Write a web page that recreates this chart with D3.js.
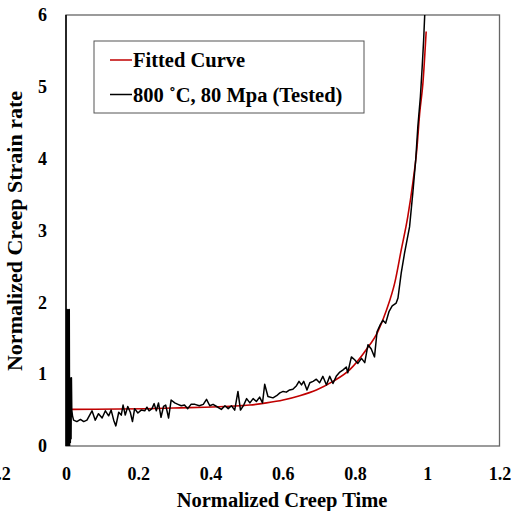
<!DOCTYPE html>
<html>
<head>
<meta charset="utf-8">
<script src="https://cdn.jsdelivr.net/npm/d3@7"></script>
<style>
  body { margin: 0; background: #fff; }
  text { font-family: "Liberation Serif", "Times New Roman", serif; font-weight: bold; fill: #000; }
</style>
</head>
<body>
<div id="chart"></div>
<script>
// --- Data ---
const testedTime = [
  0, 0.001, 0.002, 0.003, 0.004, 0.005, 0.006, 0.007, 0.008, 0.009, 0.010, 0.011,
  0.012, 0.013, 0.014, 0.015, 0.016, 0.018,
  0.021, 0.030, 0.040, 0.049, 0.058, 0.072, 0.081, 0.090, 0.100, 0.109, 0.118, 0.125,
  0.132, 0.138, 0.146, 0.153, 0.158, 0.164, 0.171, 0.178, 0.184, 0.190, 0.199, 0.208,
  0.218, 0.224, 0.230, 0.238, 0.244, 0.250, 0.256, 0.263, 0.270, 0.276, 0.284, 0.291,
  0.301, 0.310, 0.319, 0.328, 0.337, 0.346, 0.357, 0.369, 0.380, 0.389, 0.398, 0.407,
  0.417, 0.430, 0.440, 0.449, 0.458, 0.467, 0.476, 0.483, 0.492, 0.500, 0.509, 0.518,
  0.527, 0.536, 0.544, 0.550, 0.559, 0.573, 0.583, 0.592, 0.601, 0.610, 0.619, 0.628,
  0.638, 0.645, 0.652, 0.658, 0.667, 0.675, 0.684, 0.693, 0.702, 0.711, 0.721, 0.730,
  0.739, 0.748, 0.758, 0.767, 0.776, 0.780, 0.790, 0.799, 0.808, 0.818, 0.827, 0.836,
  0.845, 0.854, 0.861, 0.870, 0.877, 0.885, 0.894, 0.903, 0.914, 0.919, 0.928, 0.937,
  0.951, 0.960, 0.968, 0.974, 0.981, 0.986, 0.990, 0.993, 0.997
];
const testedRate = [
  0, 1.90, 0, 1.88, 0.05, 1.90, 0, 1.85, 0.02, 1.90, 0, 0.95,
  0.05, 0.93, 0.10, 0.95, 0.50, 0.42,
  0.36, 0.34, 0.37, 0.34, 0.36, 0.49, 0.36, 0.45, 0.39, 0.49, 0.42, 0.50,
  0.36, 0.28, 0.47, 0.43, 0.57, 0.43, 0.55, 0.47, 0.34, 0.52, 0.46, 0.50,
  0.49, 0.54, 0.49, 0.52, 0.59, 0.49, 0.60, 0.40, 0.55, 0.57, 0.39, 0.64,
  0.60, 0.58, 0.56, 0.57, 0.52, 0.58, 0.58, 0.56, 0.58, 0.65, 0.56, 0.58,
  0.55, 0.51, 0.56, 0.52, 0.56, 0.50, 0.76, 0.50, 0.57, 0.66, 0.60, 0.66,
  0.62, 0.68, 0.60, 0.86, 0.69, 0.67, 0.70, 0.74, 0.76, 0.75, 0.78, 0.79,
  0.84, 0.90, 0.85, 0.90, 0.78, 0.88, 0.90, 0.93, 0.88, 0.97, 0.85, 0.97,
  0.87, 0.97, 1.03, 1.06, 1.10, 1.02, 1.24, 1.20, 1.15, 1.22, 1.16, 1.41,
  1.35, 1.24, 1.59, 1.69, 1.75, 1.71, 1.87, 1.95, 1.99, 2.06, 2.41, 2.68,
  3.05, 3.52, 3.98, 4.45, 4.86, 5.28, 5.65, 6.00, 6.30
];
const fittedTime = [0, 0.019, 0.297, 0.481, 0.509, 0.555, 0.601, 0.647, 0.693, 0.739, 0.785,
  0.831, 0.863, 0.887, 0.910, 0.928, 0.946, 0.960, 0.971, 0.979, 0.988, 0.997];
const fittedRate = [0.51, 0.51, 0.53, 0.56, 0.57, 0.60, 0.64, 0.70, 0.78, 0.90, 1.06,
  1.34, 1.59, 1.89, 2.27, 2.73, 3.19, 3.66, 4.12, 4.63, 5.05, 5.77];

const xTicks = [-0.2, 0, 0.2, 0.4, 0.6, 0.8, 1, 1.2];
const yTicks = [0, 1, 2, 3, 4, 5, 6];
const legendLabels = ["Fitted Curve", "800 \u02DAC, 80 Mpa (Tested)"];
const legendColors = ["#c00000", "#000"];

// --- Layout ---
const width = 517, height = 511;
const margin = { left: 66, right: 17.5, top: 15, bottom: 65 };
const innerW = width - margin.left - margin.right;
const innerH = height - margin.top - margin.bottom;

const svg = d3.select("#chart")
  .append("svg")
  .attr("width", width)
  .attr("height", height);

const g = svg.append("g")
  .attr("transform", `translate(${margin.left},${margin.top})`);

const x = d3.scaleLinear().domain([0, 1.2]).range([0, innerW]);
const y = d3.scaleLinear().domain([0, 6]).range([innerH, 0]);

g.append("clipPath").attr("id", "clip")
  .append("rect").attr("width", innerW).attr("height", innerH);

// --- Plot box ---
g.append("rect")
  .attr("width", innerW)
  .attr("height", innerH)
  .attr("fill", "none")
  .attr("stroke", "#666")
  .attr("stroke-width", 1.3);
g.append("line")
  .attr("x1", 0).attr("x2", 0).attr("y1", 0).attr("y2", innerH)
  .attr("stroke", "#000").attr("stroke-width", 1.5);

// --- Axes (labels only, no tick marks) ---
const xAxis = g.append("g")
  .attr("transform", `translate(0,${innerH})`)
  .call(d3.axisBottom(x).tickValues(xTicks).tickFormat(d3.format("")).tickSize(0).tickPadding(21));
const yAxis = g.append("g")
  .call(d3.axisLeft(y).tickValues(yTicks).tickFormat(d3.format("d")).tickSize(0).tickPadding(19));
[xAxis, yAxis].forEach(a => {
  a.select(".domain").remove();
  a.selectAll("text").attr("font-size", "18px")
    .attr("font-family", "'Liberation Serif', 'Times New Roman', serif")
    .attr("font-weight", "bold").attr("fill", "#000");
});

// --- Curves ---
const tested = testedTime.map((t, i) => [t, testedRate[i]]);
const fitted = fittedTime.map((t, i) => [t, fittedRate[i]]);

const plot = g.append("g").attr("clip-path", "url(#clip)");

plot.append("path")
  .datum(fitted)
  .attr("fill", "none")
  .attr("stroke", legendColors[0])
  .attr("stroke-width", 1.6)
  .attr("d", d3.line().x(d => x(d[0])).y(d => y(d[1])).curve(d3.curveMonotoneX));

plot.append("path")
  .datum(tested)
  .attr("fill", "none")
  .attr("stroke", legendColors[1])
  .attr("stroke-width", 1.5)
  .attr("stroke-linejoin", "round")
  .attr("d", d3.line().x(d => x(d[0])).y(d => y(d[1])));

// --- Titles ---
svg.append("text")
  .attr("x", 282)
  .attr("y", 507)
  .attr("text-anchor", "middle")
  .attr("font-size", "20.5px")
  .text("Normalized Creep Time");

svg.append("text")
  .attr("transform", "translate(22,231) rotate(-90)")
  .attr("text-anchor", "middle")
  .attr("font-size", "22px")
  .text("Normalized Creep Strain rate");

// --- Legend ---
const legend = svg.append("g");
legend.append("rect")
  .attr("x", 94).attr("y", 41)
  .attr("width", 270).attr("height", 72)
  .attr("fill", "#fff")
  .attr("stroke", "#555")
  .attr("stroke-width", 1);

legendLabels.forEach((lab, i) => {
  const cy = 60 + i * 34.5;
  legend.append("line")
    .attr("x1", 110).attr("x2", 132)
    .attr("y1", cy).attr("y2", cy)
    .attr("stroke", legendColors[i]).attr("stroke-width", 1.5);
  legend.append("text")
    .attr("x", 133).attr("y", cy + 7)
    .attr("font-size", "20.5px")
    .text(lab);
});
</script>
</body>
</html>
